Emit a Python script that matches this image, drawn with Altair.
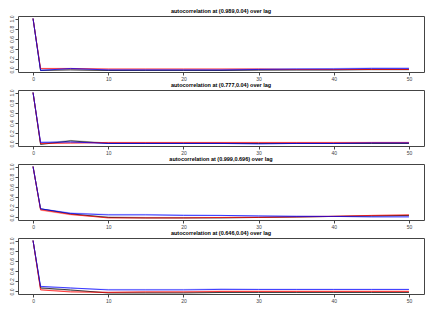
import altair as alt
import pandas as pd

lags = [0, 1, 5, 10, 15, 20, 25, 30, 35, 40, 45, 50]
series_names = ["gray", "pink", "lightblue", "black", "red", "blue"]
series_colors = ["#a0a0a0", "#ff9a9a", "#a0a0ff", "#000000", "#ff0000", "#0000ff"]

titles = [
    "autocorrelation at (0.989,0.04) over lag",
    "autocorrelation at (0.777,0.04) over lag",
    "autocorrelation at (0.999,0.696) over lag",
    "autocorrelation at (0.646,0.04) over lag",
]

p1 = {
    "gray":      [1.0, -0.01, 0.0, -0.02, -0.01, -0.01, -0.02, -0.02, -0.01, -0.01, -0.01, -0.01],
    "pink":      [1.0, 0.01, 0.0, 0.0, 0.0, 0.0, 0.0, 0.0, 0.0, 0.0, 0.01, 0.01],
    "lightblue": [1.0, 0.0, 0.01, 0.0, 0.0, 0.0, 0.0, 0.01, 0.01, 0.02, 0.03, 0.03],
    "black":     [1.0, -0.02, -0.01, -0.02, -0.02, -0.02, -0.02, -0.01, -0.01, -0.01, 0.0, 0.0],
    "red":       [1.0, 0.02, 0.02, 0.01, 0.01, 0.01, 0.01, 0.01, 0.0, 0.0, 0.0, 0.0],
    "blue":      [1.0, -0.02, 0.02, -0.01, -0.01, -0.01, -0.01, 0.0, 0.01, 0.01, 0.02, 0.02],
}
p2 = {
    "gray":      [1.0, 0.0, 0.06, 0.01, 0.01, 0.01, 0.01, 0.0, 0.0, 0.0, 0.0, 0.0],
    "pink":      [1.0, 0.0, 0.0, 0.01, 0.01, 0.01, 0.01, 0.01, 0.01, 0.01, 0.01, 0.01],
    "lightblue": [1.0, 0.03, 0.02, 0.01, 0.01, 0.01, 0.01, 0.0, 0.01, 0.01, 0.02, 0.02],
    "black":     [1.0, -0.02, 0.05, 0.0, 0.0, 0.0, 0.0, 0.0, 0.0, 0.0, 0.0, 0.0],
    "red":       [1.0, 0.0, 0.01, 0.02, 0.02, 0.02, 0.02, 0.02, 0.02, 0.02, 0.02, 0.02],
    "blue":      [1.0, 0.02, 0.03, 0.0, 0.0, 0.0, 0.0, -0.01, 0.0, 0.0, 0.01, 0.01],
}
p3 = {
    "gray":      [1.0, 0.16, 0.07, 0.01, 0.0, 0.0, 0.0, 0.01, 0.01, 0.02, 0.03, 0.04],
    "pink":      [1.0, 0.14, 0.05, 0.0, 0.0, 0.0, 0.0, 0.01, 0.02, 0.03, 0.04, 0.05],
    "lightblue": [1.0, 0.17, 0.09, 0.06, 0.06, 0.05, 0.04, 0.03, 0.03, 0.02, 0.02, 0.02],
    "black":     [1.0, 0.17, 0.07, 0.0, -0.01, -0.01, -0.01, 0.0, 0.01, 0.02, 0.03, 0.04],
    "red":       [1.0, 0.15, 0.06, -0.01, -0.01, -0.01, 0.0, 0.0, 0.01, 0.02, 0.04, 0.05],
    "blue":      [1.0, 0.17, 0.08, 0.05, 0.05, 0.04, 0.04, 0.03, 0.02, 0.02, 0.01, 0.01],
}
p4 = {
    "gray":      [1.0, 0.06, 0.02, -0.02, -0.02, -0.02, -0.01, -0.01, -0.01, -0.01, -0.01, -0.01],
    "pink":      [1.0, 0.04, 0.0, -0.01, 0.0, 0.0, 0.01, 0.01, 0.01, 0.01, 0.01, 0.01],
    "lightblue": [1.0, 0.09, 0.06, 0.04, 0.04, 0.04, 0.05, 0.04, 0.04, 0.04, 0.04, 0.04],
    "black":     [1.0, 0.07, 0.03, -0.03, -0.03, -0.03, -0.02, -0.02, -0.02, -0.02, -0.02, -0.02],
    "red":       [1.0, 0.03, -0.01, -0.02, -0.01, -0.01, 0.0, 0.0, 0.0, 0.0, 0.0, 0.0],
    "blue":      [1.0, 0.10, 0.07, 0.03, 0.03, 0.03, 0.04, 0.04, 0.04, 0.04, 0.04, 0.04],
}
panels = [p1, p2, p3, p4]

x_ticks = [0, 10, 20, 30, 40, 50]
y_ticks = [0.0, 0.2, 0.4, 0.6, 0.8, 1.0]

FONT = "Liberation Sans"


def make_panel(title, pdata):
    rows = []
    for s in series_names:
        for lag, v in zip(lags, pdata[s]):
            rows.append({"series": s, "lag": lag, "acf": v})
    df = pd.DataFrame(rows)
    return (
        alt.Chart(df)
        .mark_line(strokeWidth=0.9, opacity=0.8)
        .encode(
            x=alt.X(
                "lag:Q",
                scale=alt.Scale(domain=[-2, 52], nice=False, zero=False),
                axis=alt.Axis(values=x_ticks, title=None, grid=False, domain=False,
                              tickSize=3, labelPadding=1, labelFontSize=5,
                              labelFont=FONT, labelColor="#444", tickColor="#444"),
            ),
            y=alt.Y(
                "acf:Q",
                scale=alt.Scale(domain=[-0.05, 1.05], nice=False, zero=False),
                axis=alt.Axis(values=y_ticks, format=".1f", title=None, grid=False,
                              domain=False, tickSize=3, labelPadding=1,
                              labelFontSize=5, labelFont=FONT, labelColor="#444",
                              tickColor="#444", labelAngle=270, labelAlign="center",
                              labelBaseline="bottom"),
            ),
            color=alt.Color("series:N", scale=alt.Scale(domain=series_names, range=series_colors),
                            legend=None),
            order=alt.Order("lag:Q"),
        )
        .properties(
            width=406,
            height=56,
            title=alt.TitleParams(title, fontSize=5.5, fontWeight="bold", font=FONT,
                                  offset=1, color="#000"),
        )
    )


chart = (
    alt.vconcat(*[make_panel(t, p) for t, p in zip(titles, panels)], spacing=0)
    .properties(padding=0)
    .configure_view(stroke="#444", strokeWidth=1)
    .configure_concat(spacing=0)
)

chart.save("out.html", embed_options={"renderer": "svg", "actions": False})
